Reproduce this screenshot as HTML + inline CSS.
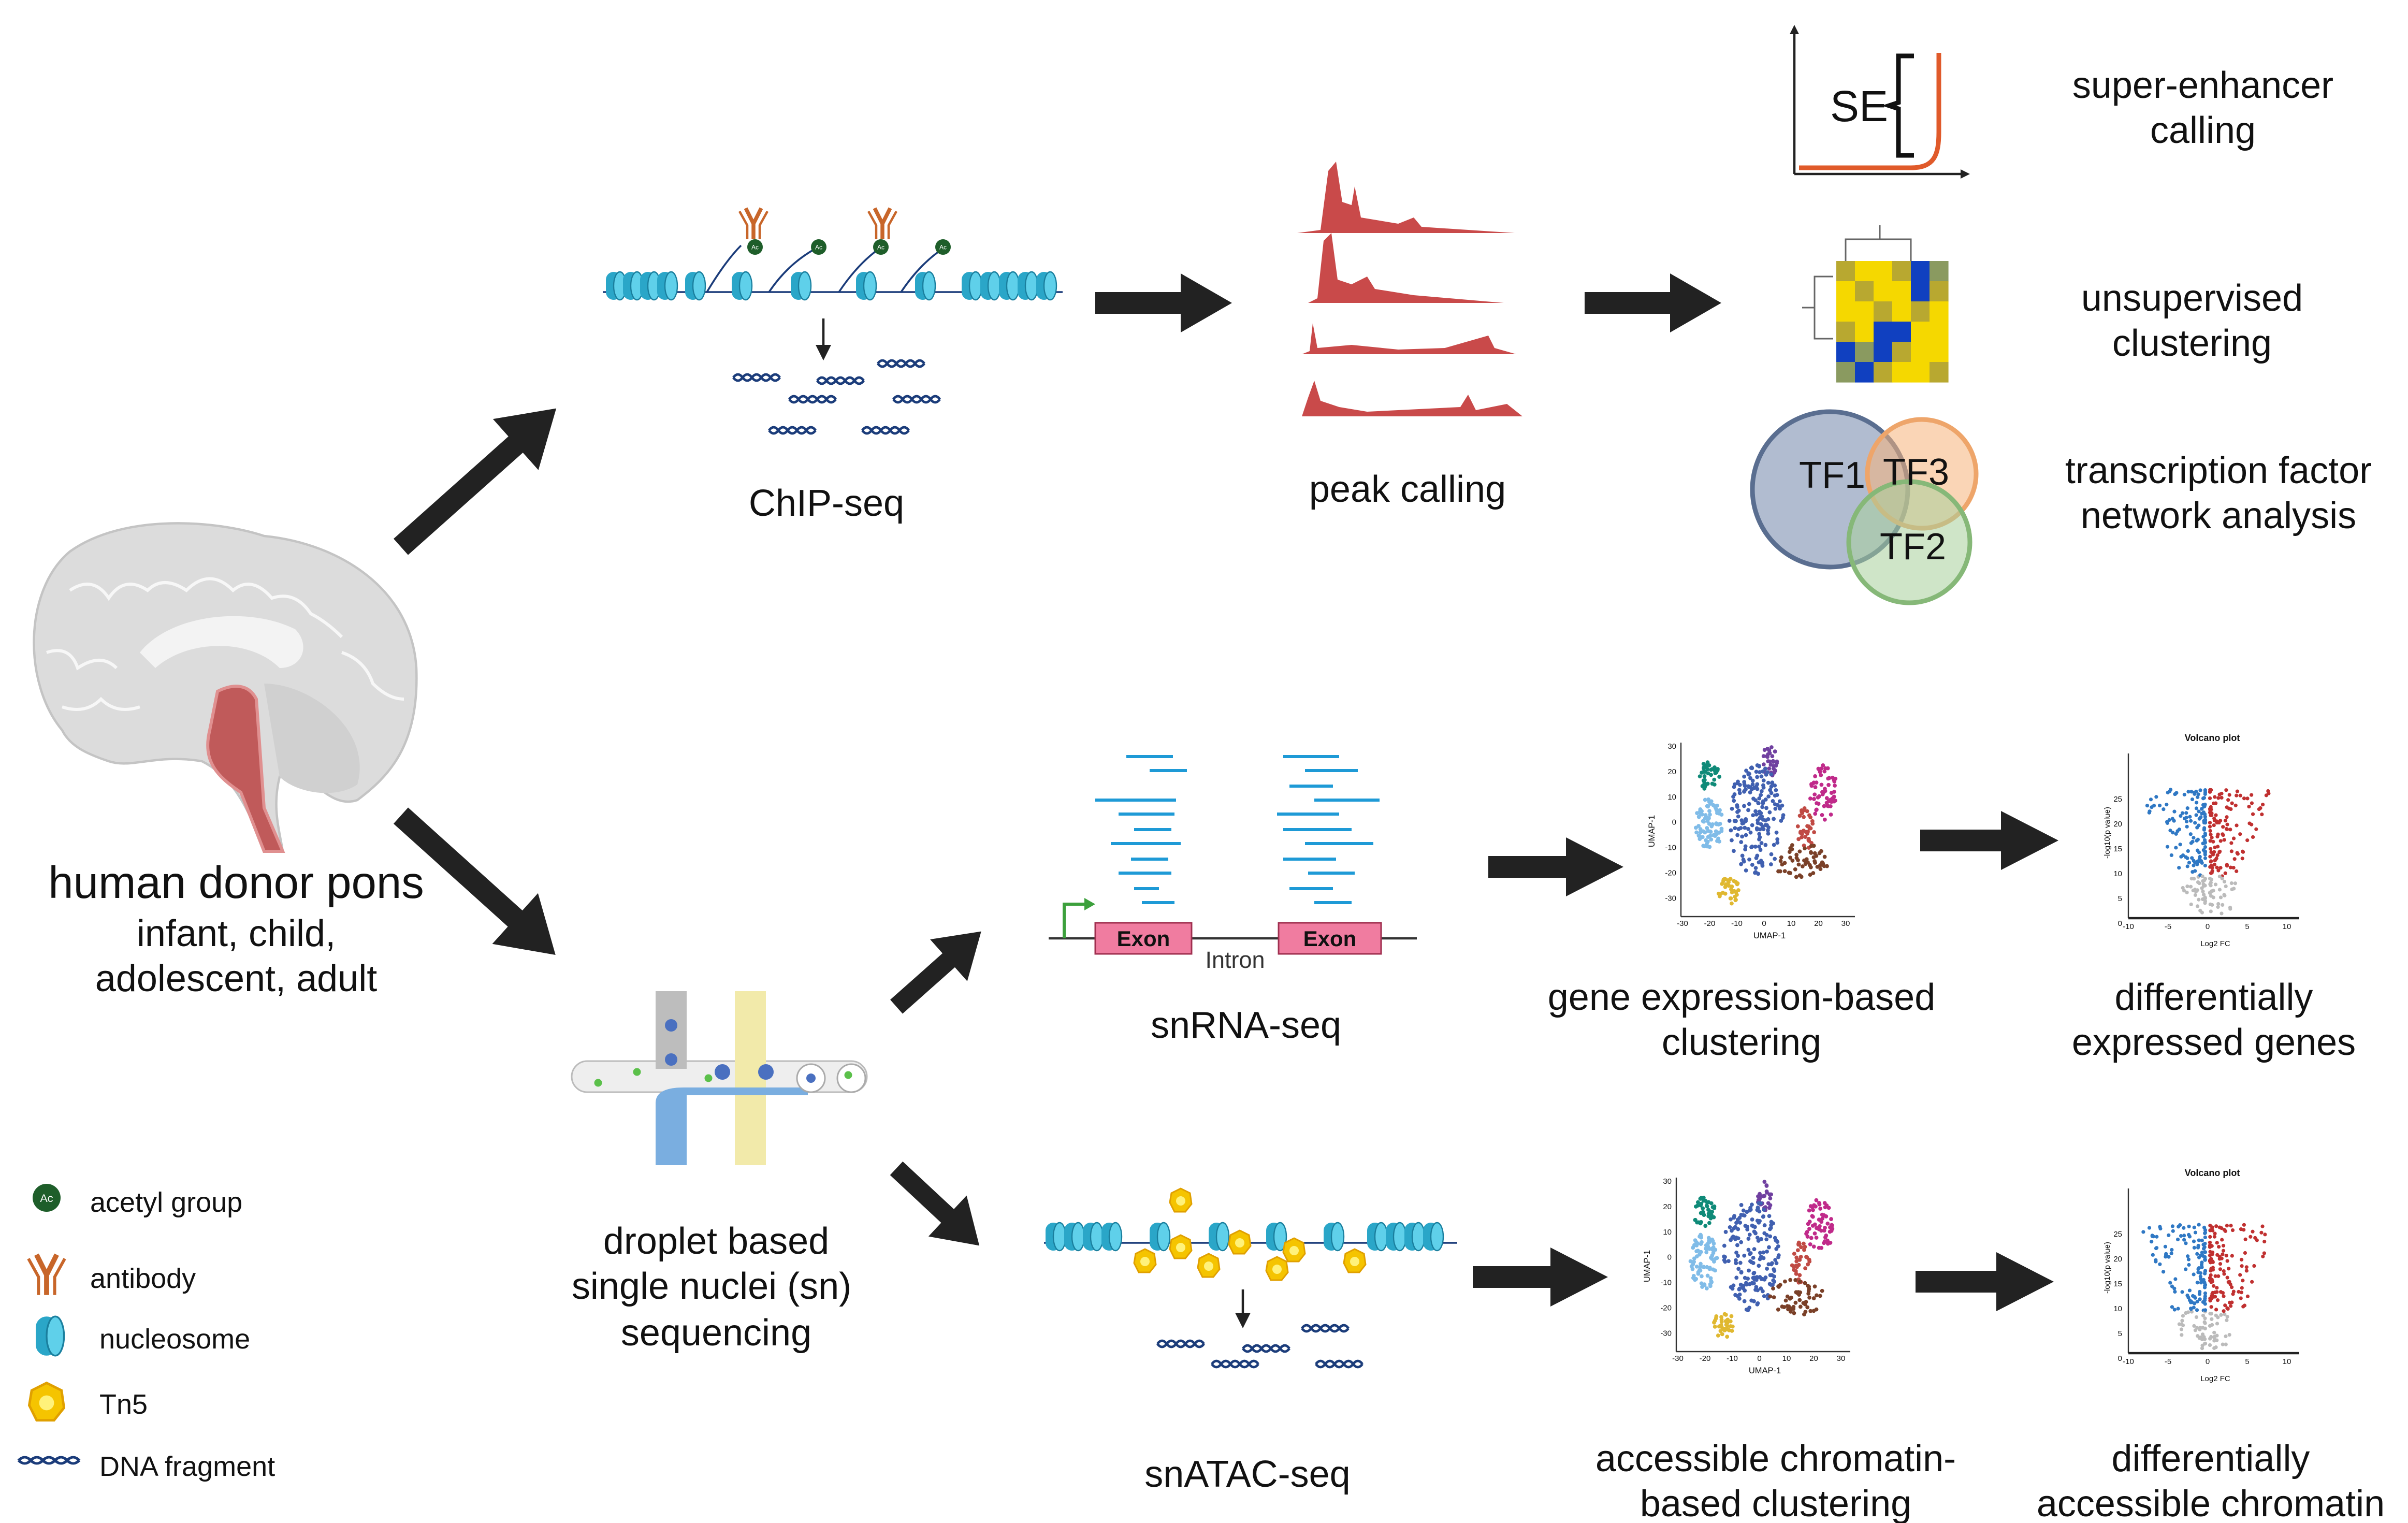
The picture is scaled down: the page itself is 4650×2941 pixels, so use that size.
<!DOCTYPE html>
<html><head><meta charset="utf-8"><style>
html,body{margin:0;padding:0;background:#fff;overflow:hidden;width:4650px;height:2941px}
svg{display:block}
text{font-family:"Liberation Sans",sans-serif;fill:#111}
</style></head><body>
<svg id="s" xmlns="http://www.w3.org/2000/svg" width="4650" height="2941" viewBox="0 0 1550 980.33">
<defs>
<g id="nuc"><rect x="-5" y="-9" width="10" height="18" rx="5" fill="#2aa6c8"/><ellipse cx="4" cy="0" rx="4" ry="9" fill="#5fd0ea" stroke="#1a7f9e" stroke-width="0.8"/></g>
<g id="dna"><path d="M0,0 q3,-4 6,0 t6,0 t6,0 t6,0 t6,0" fill="none" stroke="#1b3c7a" stroke-width="1.6"/><path d="M0,0 q3,4 6,0 t6,0 t6,0 t6,0 t6,0" fill="none" stroke="#1b3c7a" stroke-width="1.6"/></g>
<g id="ab" fill="none" stroke="#c8662a" stroke-width="2.5"><path d="M0,12 L0,2 L-5,-8 M0,2 L5,-8"/><path d="M-4,12 L-4,3 L-9,-6 M4,12 L4,3 L9,-6" stroke-width="1.5"/></g>
<g id="ac"><circle r="5" fill="#1e5e2a"/><text x="0" y="1.5" font-size="4" text-anchor="middle" style="fill:#fff">Ac</text></g>
<g id="tn5"><path d="M-6,-5 L0,-8 L6,-5 L7,2 L3,7 L-4,7 L-7,1 Z" fill="#f5c400" stroke="#e0a000" stroke-width="1"/><circle r="3" fill="#fff27a"/></g>
</defs>

<g fill="#222">
<g transform="translate(258,352) rotate(-41.7)"><polygon points="0,-7 99,-7 99,-22 134,0 99,22 99,7 0,7"/></g>
<g transform="translate(258,525) rotate(42)"><polygon points="0,-7 99,-7 99,-22 134,0 99,22 99,7 0,7"/></g>
<g transform="translate(705,195)"><polygon points="0,-7 55,-7 55,-19 88,0 55,19 55,7 0,7"/></g>
<g transform="translate(1020,195)"><polygon points="0,-7 55,-7 55,-19 88,0 55,19 55,7 0,7"/></g>
<g transform="translate(577,648) rotate(-41.6)"><polygon points="0,-6 45,-6 45,-18 73,0 45,18 45,6 0,6"/></g>
<g transform="translate(577,752) rotate(43)"><polygon points="0,-6 45,-6 45,-18 73,0 45,18 45,6 0,6"/></g>
<g transform="translate(958,558)"><polygon points="0,-7 50,-7 50,-19 87,0 50,19 50,7 0,7"/></g>
<g transform="translate(1236,541)"><polygon points="0,-7 52,-7 52,-19 89,0 52,19 52,7 0,7"/></g>
<g transform="translate(948,822)"><polygon points="0,-7 50,-7 50,-19 87,0 50,19 50,7 0,7"/></g>
<g transform="translate(1233,825)"><polygon points="0,-7 52,-7 52,-19 89,0 52,19 52,7 0,7"/></g>
</g>

<!-- brain -->
<path d="M40,470 C15,440 15,380 45,355 C80,330 140,335 170,345 C220,350 265,380 268,430 C270,480 250,500 230,515 C215,520 205,505 195,500 L180,500 C175,520 180,535 182,548 L170,548 C160,520 150,500 130,490 C100,485 85,495 70,490 C55,485 45,480 40,470Z" fill="#dcdcdc" stroke="#c4c4c4" stroke-width="1.5"/>
<g fill="none" stroke="#f7f7f7" stroke-width="2">
<path d="M45,380 q15,-10 25,5 q10,-15 25,-5 q10,-10 25,0 q15,-15 30,0 q12,-10 25,5 q15,-5 25,10 q10,5 20,15"/>
<path d="M30,420 q15,-5 20,10 q15,-10 25,0 M220,420 q15,5 20,20 q10,10 20,10 M40,455 q15,5 25,-5 q10,10 25,5"/>
</g>
<path d="M90,420 C110,395 160,390 190,405 C200,415 195,430 180,430 C160,410 120,412 100,430Z" fill="#f3f3f3"/>
<path d="M170,440 C200,440 240,470 230,505 C215,515 190,510 180,500Z" fill="#d0d0d0"/>
<path d="M140,445 C150,440 160,440 165,450 L170,520 L182,548 L170,548 L155,510 C140,500 130,490 135,470 Z" fill="#c05a5a" stroke="#e09090" stroke-width="2"/>

<!-- ChIP-seq -->
<line x1="388" y1="188" x2="684" y2="188" stroke="#1b3c7a" stroke-width="1.2"/>
<path d="M455,188 q12,-20 22,-30 M495,188 q12,-18 30,-28 M540,188 q12,-18 26,-28 M580,188 q12,-18 27,-28" fill="none" stroke="#1b3c7a" stroke-width="1.2"/>
<g>
<use href="#nuc" x="395" y="184"/><use href="#nuc" x="406" y="184"/><use href="#nuc" x="417" y="184"/><use href="#nuc" x="428" y="184"/><use href="#nuc" x="446" y="184"/>
<use href="#nuc" x="476" y="184"/><use href="#nuc" x="514" y="184"/><use href="#nuc" x="556" y="184"/><use href="#nuc" x="594" y="184"/>
<use href="#nuc" x="624" y="184"/><use href="#nuc" x="636" y="184"/><use href="#nuc" x="648" y="184"/><use href="#nuc" x="660" y="184"/><use href="#nuc" x="672" y="184"/>
</g>
<use href="#ab" x="485" y="142"/><use href="#ab" x="568" y="142"/>
<use href="#ac" x="486" y="159"/><use href="#ac" x="527" y="159"/><use href="#ac" x="567" y="159"/><use href="#ac" x="607" y="159"/>
<line x1="530" y1="205" x2="530" y2="225" stroke="#222" stroke-width="1.5"/><polygon points="525,222 535,222 530,232" fill="#222"/>
<use href="#dna" x="472" y="243"/><use href="#dna" x="526" y="245"/><use href="#dna" x="565" y="234"/><use href="#dna" x="508" y="257"/><use href="#dna" x="575" y="257"/><use href="#dna" x="495" y="277"/><use href="#dna" x="555" y="277"/>
<text x="532" y="332" font-size="24" text-anchor="middle">ChIP-seq</text>

<g fill="#c94a4a">
<path d="M835,150 L850,148 L855,110 L860,104 L864,130 L870,132 L872,120 L876,140 L900,144 L910,140 L915,146 L975,150Z"/>
<path d="M842,195 L848,192 L852,155 L857,150 L861,180 L870,183 L880,178 L885,186 L910,190 L968,195Z"/>
<path d="M838,228 L843,226 L845,208 L848,224 L870,222 L900,225 L930,224 L958,216 L962,224 L976,228Z"/>
<path d="M838,268 L842,256 L846,245 L850,258 L862,262 L880,265 L940,262 L945,254 L950,264 L970,260 L980,268Z"/>
</g>
<text x="906" y="323" font-size="24" text-anchor="middle">peak calling</text>

<line x1="1155" y1="18" x2="1155" y2="112" stroke="#222" stroke-width="1.5"/>
<line x1="1155" y1="112" x2="1265" y2="112" stroke="#222" stroke-width="1.5"/>
<polygon points="1152,22 1158,22 1155,16" fill="#222"/><polygon points="1262,109 1262,115 1268,112" fill="#222"/>
<path d="M1158,108 L1230,108 C1245,108 1248,100 1248,85 L1248,34" fill="none" stroke="#e05a2a" stroke-width="3"/>
<path d="M1232,36 L1222,36 L1222,66 L1216,68 L1222,70 L1222,100 L1232,100" fill="none" stroke="#111" stroke-width="3"/>
<text x="1178" y="78" font-size="28">SE</text>
<text x="1418" y="63" font-size="24" text-anchor="middle">super-enhancer</text>
<text x="1418" y="92" font-size="24" text-anchor="middle">calling</text>

<g id="hm"></g>
<path d="M1180,178 L1168,178 L1168,218 L1180,218 M1168,198 L1160,198 M1188,168 L1188,154 L1230,154 L1230,168 M1210,154 L1210,145" fill="none" stroke="#666" stroke-width="1"/>
<text x="1411" y="200" font-size="24" text-anchor="middle">unsupervised</text>
<text x="1411" y="229" font-size="24" text-anchor="middle">clustering</text>

<circle cx="1178" cy="315" r="50" fill="#7d8fb0" fill-opacity="0.6" stroke="#5a6e90" stroke-width="3"/>
<circle cx="1237" cy="305" r="35" fill="#f5b27a" fill-opacity="0.55" stroke="#eea56a" stroke-width="3"/>
<circle cx="1229" cy="349" r="39" fill="#a8d09a" fill-opacity="0.55" stroke="#86b878" stroke-width="3"/>
<text x="1158" y="314" font-size="24">TF1</text><text x="1212" y="312" font-size="24">TF3</text><text x="1210" y="360" font-size="24">TF2</text>
<text x="1428" y="311" font-size="24" text-anchor="middle">transcription factor</text>
<text x="1428" y="340" font-size="24" text-anchor="middle">network analysis</text>

<text x="152" y="578" font-size="29" text-anchor="middle">human donor pons</text>
<text x="152" y="609" font-size="24" text-anchor="middle">infant, child,</text>
<text x="152" y="638" font-size="24" text-anchor="middle">adolescent, adult</text>

<rect x="368" y="683" width="190" height="20" rx="10" fill="#eeeeee" stroke="#bbb"/>
<rect x="422" y="638" width="20" height="50" fill="#bdbdbd"/>
<rect x="473" y="638" width="20" height="112" fill="#f2eaaa"/>
<path d="M422,750 L422,710 Q422,700 440,700 L520,700 L520,705 L442,705 L442,750Z" fill="#7aaee0"/>
<circle cx="432" cy="660" r="4" fill="#4a70c0"/><circle cx="432" cy="682" r="4" fill="#4a70c0"/><circle cx="465" cy="690" r="5" fill="#4a70c0"/><circle cx="493" cy="690" r="5" fill="#4a70c0"/><circle cx="522" cy="694" r="9" fill="#fff" stroke="#aaa"/><circle cx="548" cy="694" r="9" fill="#fff" stroke="#aaa"/>
<circle cx="385" cy="697" r="2.5" fill="#5bc04a"/><circle cx="410" cy="690" r="2.5" fill="#5bc04a"/><circle cx="456" cy="694" r="2.5" fill="#5bc04a"/><circle cx="522" cy="694" r="3" fill="#4a70c0"/><circle cx="546" cy="692" r="2.5" fill="#5bc04a"/>
<text x="461" y="807" font-size="24" text-anchor="middle">droplet based</text>
<text x="458" y="836" font-size="24" text-anchor="middle">single nuclei (sn)</text>
<text x="461" y="866" font-size="24" text-anchor="middle">sequencing</text>

<g stroke="#1e9ad6" stroke-width="2">
<line x1="725" y1="487" x2="755" y2="487"/><line x1="740" y1="496" x2="764" y2="496"/><line x1="705" y1="515" x2="757" y2="515"/><line x1="720" y1="524" x2="756" y2="524"/><line x1="730" y1="534" x2="754" y2="534"/><line x1="715" y1="543" x2="760" y2="543"/><line x1="728" y1="553" x2="752" y2="553"/><line x1="720" y1="562" x2="754" y2="562"/><line x1="730" y1="572" x2="746" y2="572"/><line x1="735" y1="581" x2="756" y2="581"/>
<line x1="826" y1="487" x2="862" y2="487"/><line x1="840" y1="496" x2="874" y2="496"/><line x1="830" y1="506" x2="858" y2="506"/><line x1="846" y1="515" x2="888" y2="515"/><line x1="822" y1="524" x2="862" y2="524"/><line x1="826" y1="534" x2="870" y2="534"/><line x1="840" y1="543" x2="884" y2="543"/><line x1="826" y1="553" x2="860" y2="553"/><line x1="842" y1="562" x2="872" y2="562"/><line x1="830" y1="572" x2="858" y2="572"/><line x1="846" y1="581" x2="870" y2="581"/>
</g>
<line x1="675" y1="604" x2="912" y2="604" stroke="#333" stroke-width="1.5"/>
<path d="M685,604 L685,582 L700,582" fill="none" stroke="#3ca03c" stroke-width="2"/><polygon points="698,578 698,586 705,582" fill="#3ca03c"/>
<rect x="705" y="594" width="62" height="20" fill="#f07ca0" stroke="#a03050"/>
<rect x="823" y="594" width="66" height="20" fill="#f07ca0" stroke="#a03050"/>
<text x="736" y="609" font-size="14" font-weight="bold" text-anchor="middle">Exon</text>
<text x="856" y="609" font-size="14" font-weight="bold" text-anchor="middle">Exon</text>
<text x="795" y="623" font-size="15" text-anchor="middle" style="fill:#333">Intron</text>
<text x="802" y="668" font-size="24" text-anchor="middle">snRNA-seq</text>

<line x1="672" y1="800" x2="938" y2="800" stroke="#1b3c7a" stroke-width="1.2"/>
<g>
<use href="#nuc" x="678" y="796"/><use href="#nuc" x="690" y="796"/><use href="#nuc" x="702" y="796"/><use href="#nuc" x="714" y="796"/>
<use href="#nuc" x="745" y="796"/><use href="#nuc" x="783" y="796"/><use href="#nuc" x="820" y="796"/><use href="#nuc" x="857" y="796"/>
<use href="#nuc" x="885" y="796"/><use href="#nuc" x="897" y="796"/><use href="#nuc" x="909" y="796"/><use href="#nuc" x="921" y="796"/>
</g>
<use href="#tn5" x="760" y="773"/><use href="#tn5" x="737" y="812"/><use href="#tn5" x="760" y="803"/><use href="#tn5" x="778" y="815"/><use href="#tn5" x="798" y="800"/><use href="#tn5" x="833" y="805"/><use href="#tn5" x="872" y="812"/><use href="#tn5" x="822" y="817"/>
<line x1="800" y1="830" x2="800" y2="848" stroke="#222" stroke-width="1.5"/><polygon points="795,845 805,845 800,855" fill="#222"/>
<use href="#dna" x="745" y="865"/><use href="#dna" x="800" y="868"/><use href="#dna" x="838" y="855"/><use href="#dna" x="780" y="878"/><use href="#dna" x="847" y="878"/>
<text x="803" y="957" font-size="24" text-anchor="middle">snATAC-seq</text>

<text x="1121" y="650" font-size="24" text-anchor="middle">gene expression-based</text>
<text x="1121" y="679" font-size="24" text-anchor="middle">clustering</text>
<text x="1425" y="650" font-size="24" text-anchor="middle">differentially</text>
<text x="1425" y="679" font-size="24" text-anchor="middle">expressed genes</text>
<text x="1143" y="947" font-size="24" text-anchor="middle">accessible chromatin-</text>
<text x="1143" y="976" font-size="24" text-anchor="middle">based clustering</text>
<text x="1423" y="947" font-size="24" text-anchor="middle">differentially</text>
<text x="1423" y="976" font-size="24" text-anchor="middle">accessible chromatin</text>

<g id="plots"></g>

<use href="#ac" transform="translate(30,771) scale(1.8)"/>
<text x="58" y="780" font-size="18">acetyl group</text>
<use href="#ab" transform="translate(30,818) scale(1.3)"/>
<text x="58" y="829" font-size="18">antibody</text>
<use href="#nuc" transform="translate(30,860) scale(1.4)"/>
<text x="64" y="868" font-size="18">nucleosome</text>
<use href="#tn5" transform="translate(30,903) scale(1.6)"/>
<text x="64" y="910" font-size="18">Tn5</text>
<use href="#dna" transform="translate(12,940) scale(1.3,1)"/>
<text x="64" y="950" font-size="18">DNA fragment</text>
</svg>
<script>
(function(){
var NS="http://www.w3.org/2000/svg";
function el(t,a,p){var e=document.createElementNS(NS,t);for(var k in a)e.setAttribute(k,a[k]);(p||document.getElementById('plots')).appendChild(e);return e;}
var seed=7;function r(){seed=(seed*16807)%2147483647;return seed/2147483647;}
var hm=document.getElementById('hm');
var Y="#f5d800",B="#1040c0",O="#b8a830",G="#8a9a60";
var grid=[[O,Y,Y,O,B,G],[Y,O,Y,Y,B,O],[Y,Y,O,Y,O,Y],[O,Y,B,B,Y,Y],[B,G,B,O,Y,Y],[G,B,O,Y,Y,O]];
for(var i=0;i<6;i++)for(var j=0;j<6;j++)el('rect',{x:1182+j*12,y:168+i*13,width:12.2,height:13.2,fill:grid[i][j]},hm);
function umap(ox,oy){
 el('line',{x1:ox,y1:oy-112,x2:ox,y2:oy,stroke:'#333','stroke-width':0.8});
 el('line',{x1:ox,y1:oy,x2:ox+112,y2:oy,stroke:'#333','stroke-width':0.8});
 var yl=['30','20','10','0','-10','-20','-30'];for(var i=0;i<7;i++){var t=el('text',{x:ox-3,y:oy-108+i*16.3,'font-size':5,'text-anchor':'end'});t.textContent=yl[i];}
 var xl=['-30','-20','-10','0','10','20','30'];for(var i=0;i<7;i++){var t=el('text',{x:ox+1+i*17.5,y:oy+6,'font-size':5,'text-anchor':'middle'});t.textContent=xl[i];}
 var t=el('text',{x:ox+57,y:oy+14,'font-size':5.5,'text-anchor':'middle'});t.textContent='UMAP-1';
 t=el('text',{x:ox-17,y:oy-55,'font-size':5.5,'text-anchor':'middle',transform:'rotate(-90 '+(ox-17)+' '+(oy-55)+')'});t.textContent='UMAP-1';
 var cl=[[18,-90,7,10,'#0f8a78',40],[57,-100,5,10,'#7040a0',30],[48,-62,18,36,'#4060b0',180],[18,-58,9,18,'#80bce8',80],[92,-80,9,18,'#c02a8a',60],[80,-57,6,14,'#c04a44',35],[78,-35,18,12,'#7a4028',55],[31,-17,7,9,'#e0b830',35]];
 cl.forEach(function(c){for(var k=0;k<c[5];k++){var a=r()*6.283,d=Math.sqrt(r());el('circle',{cx:ox+c[0]+Math.cos(a)*d*c[2],cy:oy+c[1]+Math.sin(a)*d*c[3],r:1.3,fill:c[4]});}});
}
function volc(ox,oy){
 var t=el('text',{x:ox+54,y:oy-114,'font-size':6,'font-weight':'bold','text-anchor':'middle'});t.textContent='Volcano plot';
 el('line',{x1:ox,y1:oy-106,x2:ox,y2:oy,stroke:'#333','stroke-width':0.8});
 el('line',{x1:ox,y1:oy,x2:ox+110,y2:oy,stroke:'#222','stroke-width':1.5});
 var yl=['25','20','15','10','5','0'];for(var i=0;i<6;i++){var t2=el('text',{x:ox-4,y:oy-77+i*16+2,'font-size':5,'text-anchor':'end'});t2.textContent=yl[i];}
 var xl=['-10','-5','0','5','10'];for(var i=0;i<5;i++){var t3=el('text',{x:ox+i*25.5,y:oy+7,'font-size':5,'text-anchor':'middle'});t3.textContent=xl[i];}
 t=el('text',{x:ox+56,y:oy+18,'font-size':5,'text-anchor':'middle'});t.textContent='Log2 FC';
 t=el('text',{x:ox-12,y:oy-55,'font-size':5,'text-anchor':'middle',transform:'rotate(-90 '+(ox-12)+' '+(oy-55)+')'});t.textContent='-log10(p value)';
 var cx=ox+51;
 for(var k=0;k<320;k++){var yv=Math.pow(r(),0.8);var side=r()<0.5?-1:1;var spread=Math.pow(r(),2.2);var sx=cx+side*(1.5+spread*30*(0.4+yv));var sy=oy-3-yv*80;
  var col=(sy>oy-27)?'#bbb':(side<0?'#2f78c4':'#c03030');
  el('circle',{cx:sx,cy:sy,r:1.2,fill:col});}
}
umap(1082,590);umap(1079,870);volc(1370,591);volc(1370,871);
})();
</script>
</body></html>
